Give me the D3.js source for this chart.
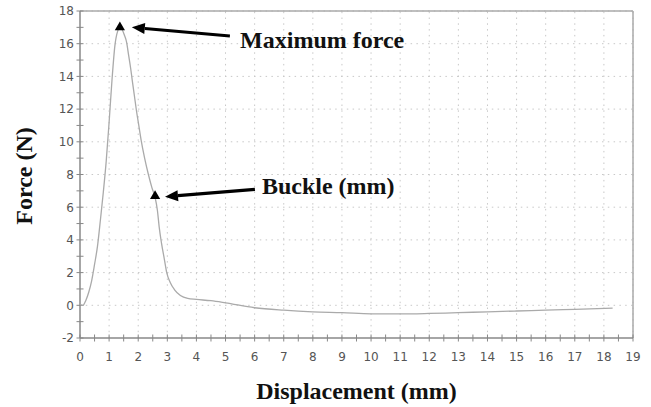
<!DOCTYPE html>
<html><head><meta charset="utf-8">
<script src="https://cdn.jsdelivr.net/npm/d3@7"></script>
<style>body{margin:0;background:#fff}svg{display:block}</style>
</head><body>
<svg id="c" width="651" height="407"></svg>
<script>
const dispX = [0,0.1,0.2,0.3,0.4,0.5,0.6,0.7,0.8,0.9,1.0,1.1,1.2,1.3,1.37,1.45,1.53,1.6,1.67,1.74,1.8,1.87,1.94,2.02,2.1,2.22,2.35,2.47,2.58,2.66,2.72,2.8,2.9,2.98,3.1,3.25,3.45,3.7,4.0,4.5,5.0,6.0,7.0,8.0,9.0,10.0,11.0,12.0,13.0,14.0,15.0,16.0,17.0,18.3];
const forceY = [0.05,0,0.3,0.8,1.5,2.5,3.6,5.2,6.9,8.8,11.2,13.8,15.9,16.8,17.0,16.85,16.5,16.1,15.3,14.5,13.7,12.8,11.9,11.0,10.1,9.0,8.0,7.2,6.6,5.8,4.8,3.8,2.8,2.0,1.4,0.95,0.6,0.42,0.36,0.28,0.15,-0.15,-0.3,-0.4,-0.45,-0.52,-0.53,-0.5,-0.45,-0.4,-0.35,-0.3,-0.25,-0.17];
const xTicks = d3.range(0,20,1);
const yTicks = d3.range(-2,19,2);
const markers = [{x:1.37,y:17.0},{x:2.58,y:6.68}];
const annotations = [
  {label:"Maximum force", tx:5.5, ty:15.74, from:[5.15,16.47], to:[1.78,17.0]},
  {label:"Buckle (mm)", tx:6.25, ty:6.81, from:[6.01,7.09], to:[2.92,6.64]}
];
const xTitle = "Displacement (mm)", yTitle = "Force (N)";

const W=651,H=407,m={l:80,r:18,t:11,b:69};
const svg=d3.select("#c");
const x=d3.scaleLinear().domain([0,19]).range([m.l,W-m.r]);
const y=d3.scaleLinear().domain([-2,18]).range([H-m.b,m.t]);

// grid
const g=svg.append("g");
g.selectAll("line.vx").data(xTicks.slice(1)).join("line")
 .attr("x1",d=>x(d)).attr("x2",d=>x(d)).attr("y1",y(-2)).attr("y2",y(18))
 .attr("stroke","#c8c8c8").attr("stroke-width",1).attr("stroke-dasharray","1.5,4.3");
g.selectAll("line.hy").data(yTicks.slice(1)).join("line")
 .attr("y1",d=>y(d)).attr("y2",d=>y(d)).attr("x1",x(0)).attr("x2",x(19))
 .attr("stroke","#c8c8c8").attr("stroke-width",1).attr("stroke-dasharray","1.5,4.3");

// frame top & right
svg.append("line").attr("x1",x(0)).attr("x2",x(19)).attr("y1",y(18)).attr("y2",y(18)).attr("stroke","#aaa").attr("stroke-width",1.5);
svg.append("line").attr("x1",x(19)).attr("x2",x(19)).attr("y1",y(18)).attr("y2",y(-2)).attr("stroke","#aaa").attr("stroke-width",1.5);

// axes
const axC="#888";
const xa=svg.append("g").attr("transform",`translate(0,${y(-2)})`);
xa.append("line").attr("x1",x(0)).attr("x2",x(19)).attr("stroke",axC).attr("stroke-width",1.5);
xa.selectAll("line.t").data(d3.range(0,19.01,0.5)).join("line")
 .attr("x1",d=>x(d)).attr("x2",d=>x(d)).attr("y1",-3.5).attr("y2",3.5).attr("stroke",axC);
xa.selectAll("text").data(xTicks).join("text")
 .attr("x",d=>x(d)).attr("y",23).attr("text-anchor","middle")
 .attr("font-family","DejaVu Sans, Verdana, sans-serif").attr("font-size",12).attr("fill","#555").text(d=>d);

const ya=svg.append("g").attr("transform",`translate(${x(0)},0)`);
ya.append("line").attr("y1",y(-2)).attr("y2",y(18)).attr("stroke",axC).attr("stroke-width",1.5);
ya.selectAll("line.t").data(d3.range(-2,18.01,1)).join("line")
 .attr("y1",d=>y(d)).attr("y2",d=>y(d)).attr("x1",-3.5).attr("x2",3.5).attr("stroke",axC);
ya.selectAll("text").data(yTicks).join("text")
 .attr("x",-6).attr("y",d=>y(d)+4.3).attr("text-anchor","end")
 .attr("font-family","DejaVu Sans, Verdana, sans-serif").attr("font-size",12).attr("fill","#555").text(d=>d);

// curve
const pts=dispX.map((d,i)=>[d,forceY[i]]);
svg.append("path").datum(pts)
 .attr("d",d3.line().x(d=>x(d[0])).y(d=>y(d[1])).curve(d3.curveMonotoneX))
 .attr("fill","none").attr("stroke","#aaaaaa").attr("stroke-width",1.3);

// markers
svg.selectAll("path.mk").data(markers).join("path")
 .attr("d",d3.symbol().type(d3.symbolTriangle).size(45))
 .attr("transform",d=>`translate(${x(d.x)},${y(d.y)})`).attr("fill","#000");

// annotations
const ann=svg.append("g");
annotations.forEach(a=>{
  const x1=x(a.from[0]),y1=y(a.from[1]),x2=x(a.to[0]),y2=y(a.to[1]);
  const ang=Math.atan2(y2-y1,x2-x1), L=13, Wd=5.5;
  const bx=x2-L*Math.cos(ang), by=y2-L*Math.sin(ang);
  ann.append("line").attr("x1",x1).attr("y1",y1).attr("x2",bx).attr("y2",by)
    .attr("stroke","#000").attr("stroke-width",3.2);
  const px=-Math.sin(ang),py=Math.cos(ang);
  ann.append("path").attr("d",`M${x2},${y2}L${bx+px*Wd},${by+py*Wd}L${bx-px*Wd},${by-py*Wd}Z`).attr("fill","#000");
  ann.append("text").attr("x",x(a.tx)).attr("y",y(a.ty))
    .attr("font-family","Liberation Serif, Times New Roman, serif").attr("font-weight","bold")
    .attr("font-size",24).attr("fill","#111").text(a.label);
});

// titles
svg.append("text").attr("x",(x(0)+x(19))/2).attr("y",399).attr("text-anchor","middle")
 .attr("font-family","Liberation Serif, Times New Roman, serif").attr("font-weight","bold")
 .attr("font-size",24).attr("fill","#111").text(xTitle);
svg.append("text").attr("transform","translate(32,176) rotate(-90)").attr("text-anchor","middle")
 .attr("font-family","Liberation Serif, Times New Roman, serif").attr("font-weight","bold")
 .attr("font-size",24).attr("fill","#111").text(yTitle);
</script>
</body></html>
